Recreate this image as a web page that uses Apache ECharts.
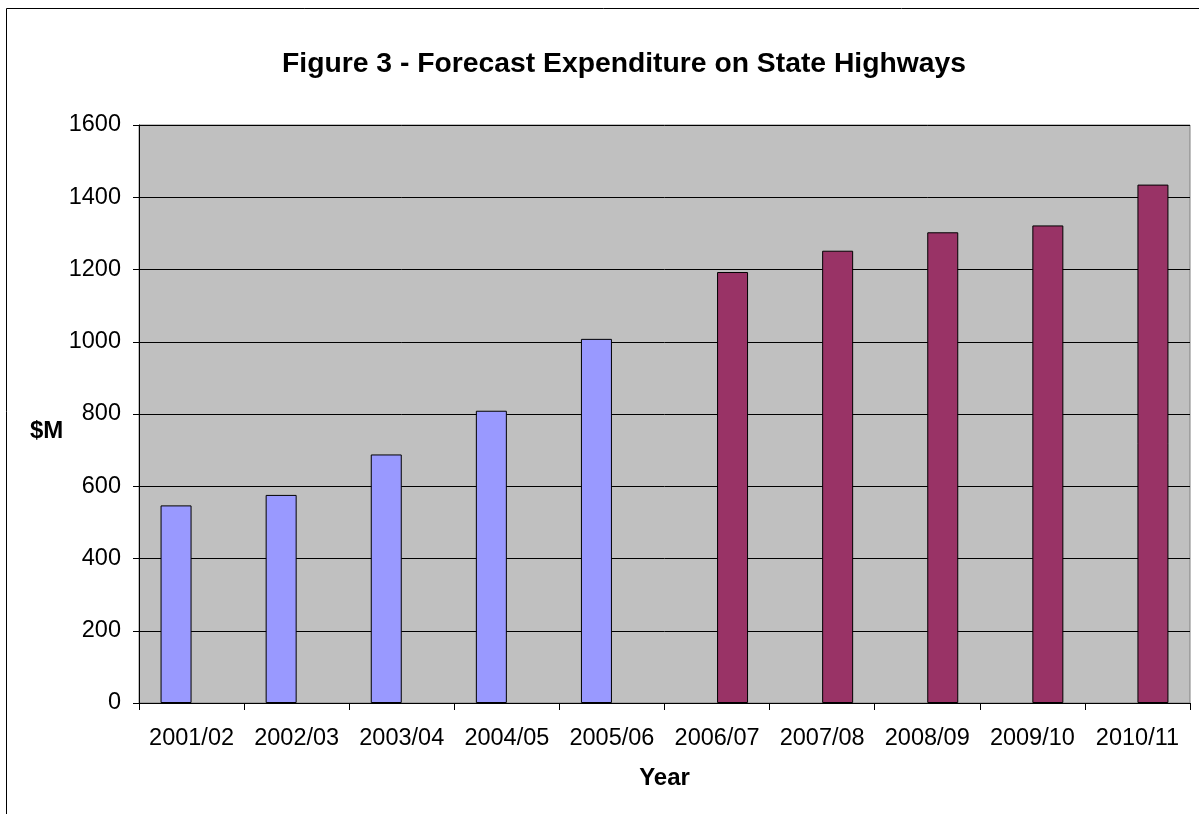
<!DOCTYPE html>
<html>
<head>
<meta charset="utf-8">
<script src="https://cdn.jsdelivr.net/npm/echarts@6/dist/echarts.min.js"></script>
<style>
html,body{margin:0;padding:0;background:#fff;}
#chart{width:1199px;height:814px;}
</style>
</head>
<body>
<div id="chart"></div>
<script>
const categories = ['2001/02','2002/03','2003/04','2004/05','2005/06','2006/07','2007/08','2008/09','2009/10','2010/11'];
const actualValues = [547, 576, 688, 809, 1008, null, null, null, null, null];
const forecastValues = [null, null, null, null, null, 1193, 1252, 1303, 1322, 1435];
const yTicks = { min: 0, max: 1600, interval: 200 };

const font = 'Arial, "Liberation Sans", sans-serif';
const chart = echarts.init(document.getElementById('chart'));
chart.setOption({
  backgroundColor: '#ffffff',
  animation: false,
  title: {
    text: 'Figure 3 - Forecast Expenditure on State Highways',
    left: 619, top: 45, textAlign: 'center',
    textStyle: { fontFamily: font, fontSize: 28.3, fontWeight: 'bold', color: '#000' }
  },
  graphic: [{
    type: 'rect', shape: { x: 6.5, y: 8.5, width: 1300, height: 900 },
    style: { fill: 'none', stroke: '#000', lineWidth: 1 }, silent: true, z: 100
  }, {
    type: 'text', left: 30, top: 419,
    style: { text: '$M', fontFamily: font, fontSize: 24, fontWeight: 'bold', fill: '#000' }
  }],
  grid: {
    left: 139, right: 9, top: 125, bottom: 111, containLabel: false,
    show: true, backgroundColor: '#C0C0C0', borderColor: '#808080', borderWidth: 1
  },
  xAxis: {
    type: 'category', data: categories,
    name: 'Year', nameLocation: 'middle', nameGap: 63,
    nameTextStyle: { fontFamily: font, fontSize: 24, fontWeight: 'bold', color: '#000' },
    axisLine: { lineStyle: { color: '#000', width: 1 } },
    axisTick: { show: true, alignWithLabel: false, length: 7, lineStyle: { color: '#000' } },
    axisLabel: { fontFamily: font, fontSize: 23.5, color: '#000', margin: 24, interval: 0 }
  },
  yAxis: {
    type: 'value', min: yTicks.min, max: yTicks.max, interval: yTicks.interval,
    axisLine: { show: true, lineStyle: { color: '#000', width: 1 } },
    axisTick: { show: true, length: 6, lineStyle: { color: '#000' } },
    axisLabel: { fontFamily: font, fontSize: 23.5, color: '#000', margin: 18, formatter: v => String(v) },
    splitLine: { show: true, lineStyle: { color: '#000', width: 1 } }
  },
  series: [
    {
      type: 'bar', name: 'Actual', data: actualValues,
      barWidth: 31, barGap: '0%',
      itemStyle: { color: '#9999FF', borderColor: '#000', borderWidth: 1 }
    },
    {
      type: 'bar', name: 'Forecast', data: forecastValues,
      barWidth: 31, barGap: '0%',
      itemStyle: { color: '#993366', borderColor: '#000', borderWidth: 1 }
    }
  ]
});
</script>
</body>
</html>
